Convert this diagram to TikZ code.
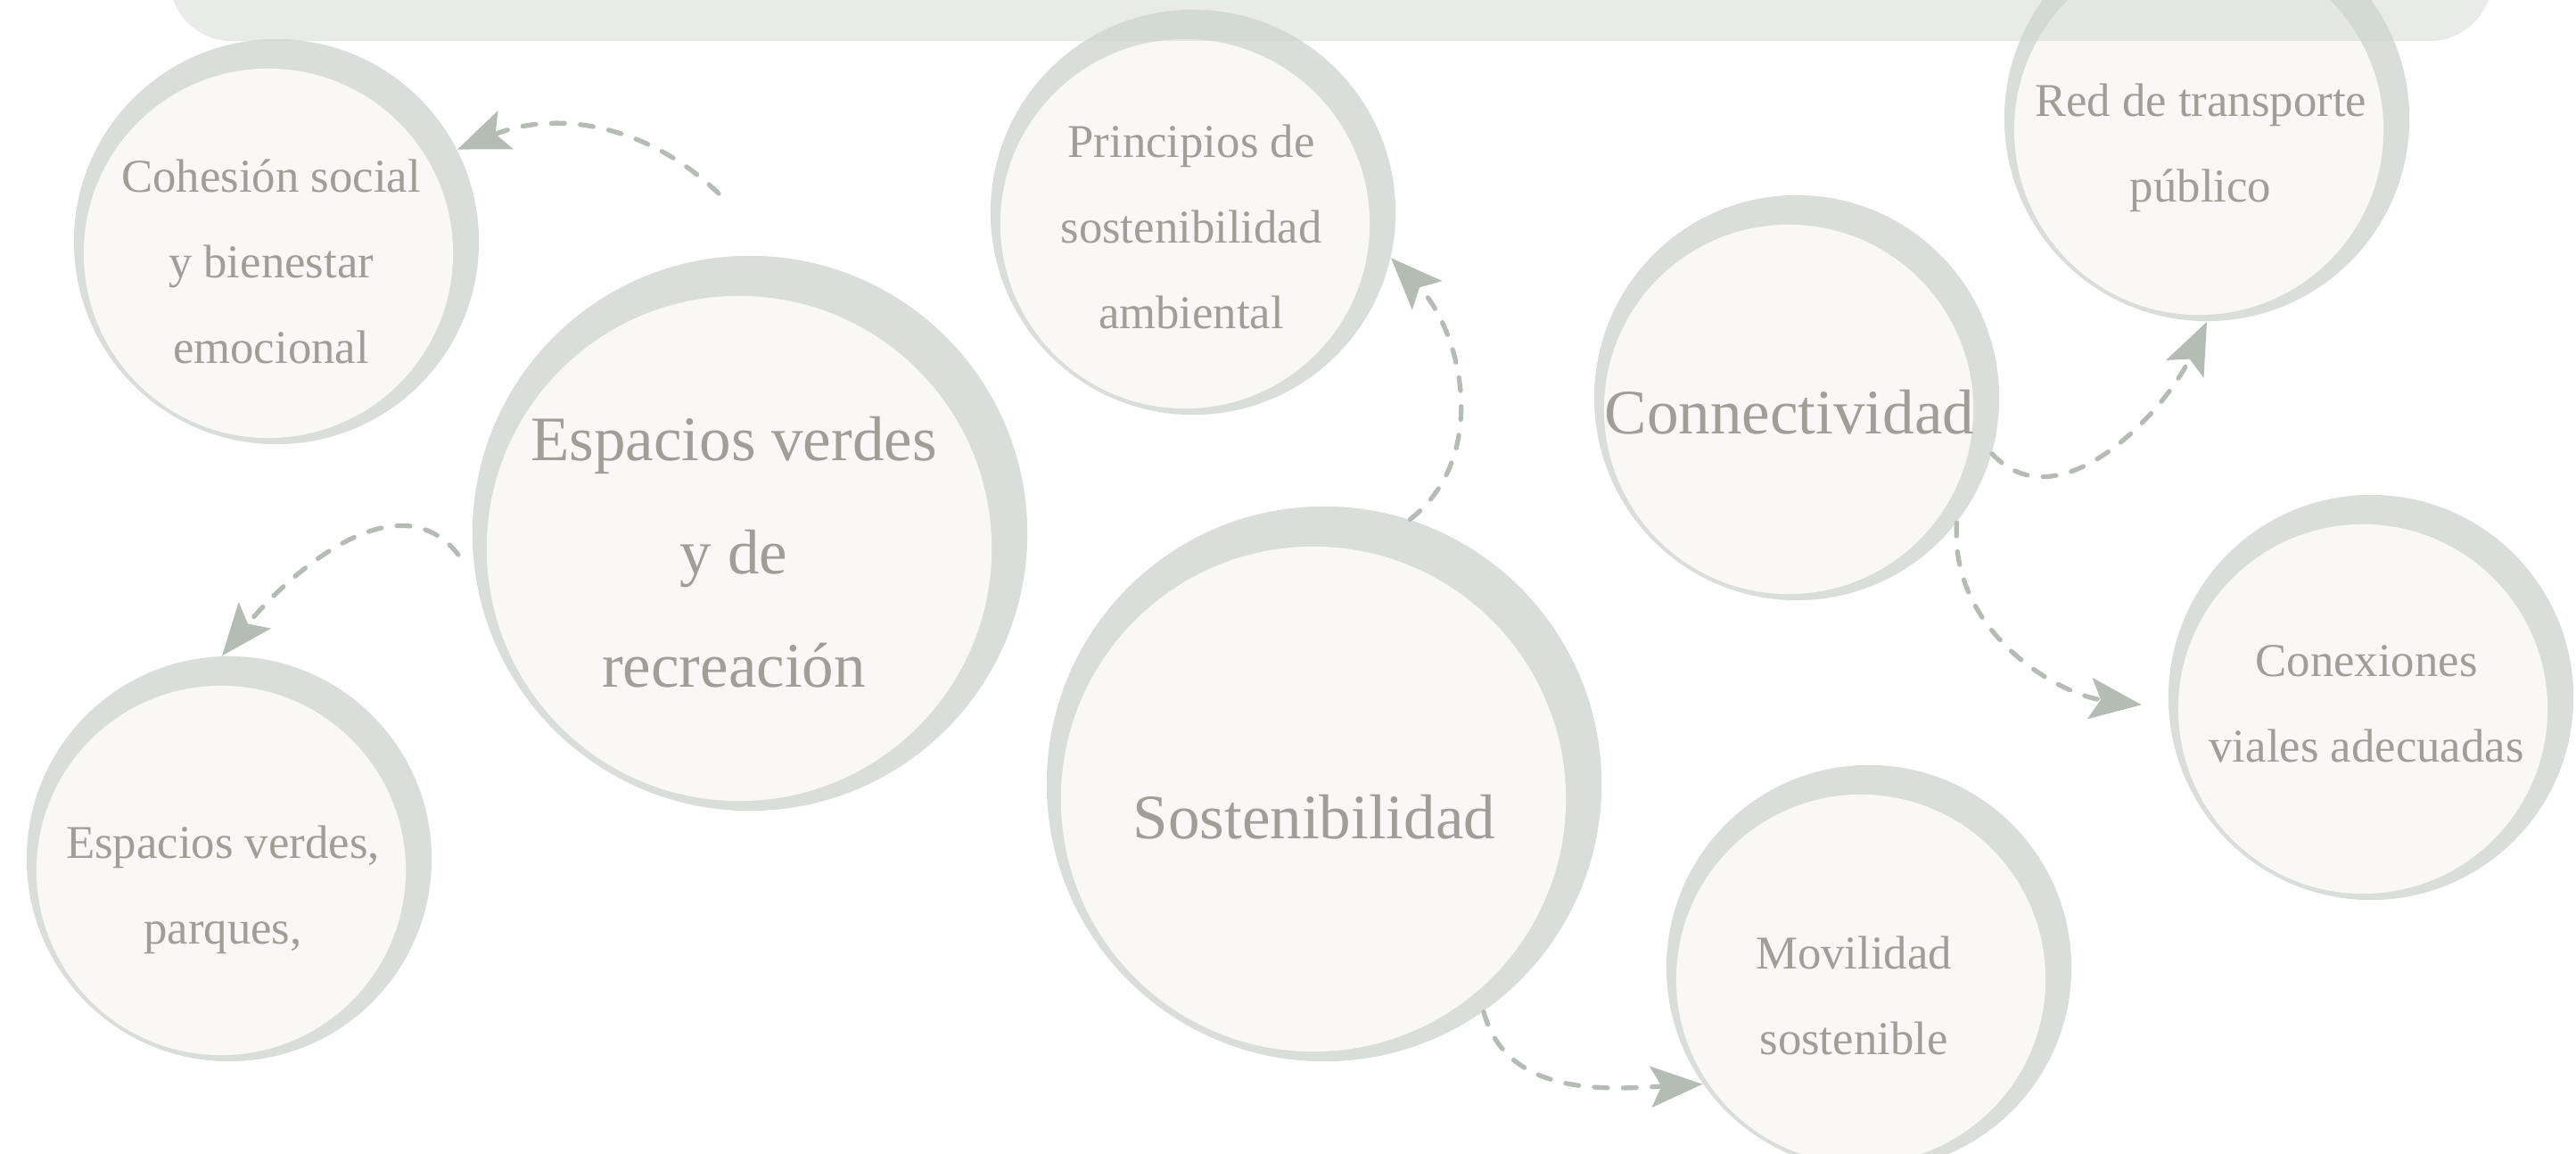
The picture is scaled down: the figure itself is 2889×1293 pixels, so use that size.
\documentclass[tikz,border=0pt]{standalone}
\usepackage{fontspec}
\setmainfont{Liberation Serif}
\usetikzlibrary{arrows.meta}

\definecolor{anillo}{HTML}{D9DEDA}
\definecolor{centro}{HTML}{FAF8F7}
\definecolor{letra}{HTML}{A09E96}
\definecolor{linea}{HTML}{B3BDB4}
\definecolor{franja}{HTML}{CCD3CD}

\tikzset{
  bola/.style={circle, fill=anillo, inner sep=0pt, minimum size=4.54cm},
  bolagrande/.style={bola, minimum size=6.22cm},
  texto/.style={align=center, text=letra, font=\fontsize{15}{27.3}\selectfont},
  textogrande/.style={texto, font=\fontsize{20.2}{36.1}\selectfont},
  flecha/.style={draw=linea, line width=1.5pt, line cap=round, dash pattern=on 4.2pt off 5pt,
    -{Stealth[length=0.58cm, width=0.46cm, inset=0.12cm]}}
}

\begin{document}
\begin{tikzpicture}[x=0.01cm, y=0.01cm]
\useasboundingbox (0,0) rectangle (2889,1293);

% circulos
\node[bola] (cohesion) at (310,1022) {};
\node[bolagrande] (espacios) at (841,695) {};
\node[bola] (parques) at (257,330) {};
\node[bola] (principios) at (1338,1055) {};
\node[bolagrande] (sosten) at (1485,414) {};
\node[bola] (conect) at (2015,847) {};
\node[bola] (red) at (2475,1160) {};
\node[bola] (conexiones) at (2659,511) {};
\node[bola] (movilidad) at (2096,208) {};

% interiores
\foreach \n in {cohesion,parques,principios,conect,red,conexiones,movilidad}
  \fill[centro] ([shift={(-9,-13)}]\n.center) circle (2.07cm);
\foreach \n in {espacios,sosten}
  \fill[centro] ([shift={(-12,-17)}]\n.center) circle (2.83cm);

% franja de arriba
\fill[franja, fill opacity=0.45, rounded corners=0.7cm] (190,1247) rectangle (2795,1450);

% textos
\node[texto] (cohesion-t) at ([shift={(-6,-22)}]cohesion.center) {Cohesión social\\y bienestar\\emocional};
\node[textogrande] (espacios-t) at ([shift={(-18,-21)}]espacios.center) {Espacios verdes\\y de\\recreación};
\node[texto] (parques-t) at ([shift={(-7,-35)}]parques.center) {Espacios verdes,\\parques,};
\node[texto] (principios-t) at ([shift={(-2,-16)}]principios.center) {Principios de\\sostenibilidad\\ambiental};
\node[textogrande] (sosten-t) at ([shift={(-11,-37)}]sosten.center) {Sostenibilidad};
\node[textogrande] (conect-t) at ([shift={(-8,-16)}]conect.center) {Connectividad};
\node[texto] (red-t) at ([shift={(-7,-33)}]red.center) {Red de transporte\\público};
\node[texto] (conexiones-t) at ([shift={(-5,-7)}]conexiones.center) {Conexiones\\viales adecuadas};
\node[texto] (movilidad-t) at ([shift={(-17,-31)}]movilidad.center) {Movilidad\\sostenible};

% flechas
\coordinate (e1) at ([shift={(-35,381)}]espacios.center);
\coordinate (e2) at ([shift={(-327,-24)}]espacios.center);
\draw[flecha] (e1) to[out=136,in=22] (cohesion.27);
\draw[flecha] (e2) to[out=128,in=51] (parques.92);
\draw[flecha] (sosten.72) to[out=38,in=-46] (principios.-13);
\draw[flecha] (conect.-16) to[out=-47,in=245] (red.south);
\draw[flecha, shorten >=0.3cm] (conect.-38) to[out=-94,in=173] (conexiones.183);
\draw[flecha] (sosten.-55) to[out=-75,in=183] (movilidad.215);

\end{tikzpicture}
\end{document}
